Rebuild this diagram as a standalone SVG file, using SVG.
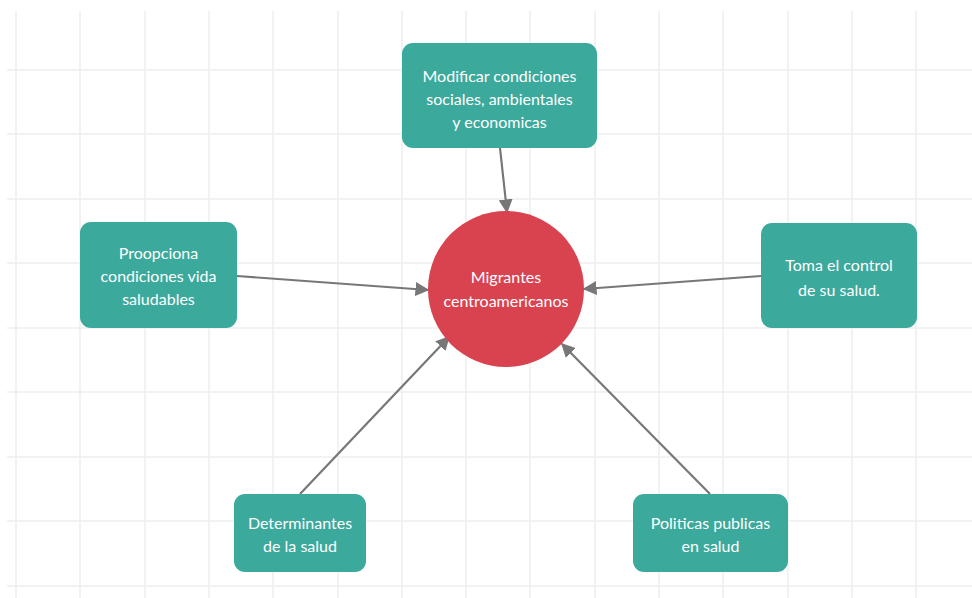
<svg xmlns="http://www.w3.org/2000/svg" width="972" height="598" viewBox="0 0 972 598">
<defs>
<style>
.grid line{stroke:#eeeeee;stroke-width:1.5}
.box{fill:#3ba99c}
.hub{fill:#d8434f}
.t{font-family:Lato,"Open Sans","Liberation Sans",sans-serif;font-size:16px;fill:#ffffff;text-anchor:middle}
.c{stroke:#777777;stroke-width:2.2;fill:none;marker-end:url(#ah)}
</style>
<marker id="ah" viewBox="0 0 10 10" refX="9" refY="5" markerWidth="14" markerHeight="14" markerUnits="userSpaceOnUse" orient="auto">
<path d="M0,0 L10,5 L0,10 z" fill="#777777"/>
</marker>
</defs>
<rect width="972" height="598" fill="#ffffff"/>
<g class="grid">
<line x1="16" y1="11" x2="16" y2="598"/>
<line x1="80" y1="11" x2="80" y2="598"/>
<line x1="145" y1="11" x2="145" y2="598"/>
<line x1="209" y1="11" x2="209" y2="598"/>
<line x1="273" y1="11" x2="273" y2="598"/>
<line x1="338" y1="11" x2="338" y2="598"/>
<line x1="402" y1="11" x2="402" y2="598"/>
<line x1="466" y1="11" x2="466" y2="598"/>
<line x1="530" y1="11" x2="530" y2="598"/>
<line x1="595" y1="11" x2="595" y2="598"/>
<line x1="659" y1="11" x2="659" y2="598"/>
<line x1="723" y1="11" x2="723" y2="598"/>
<line x1="788" y1="11" x2="788" y2="598"/>
<line x1="852" y1="11" x2="852" y2="598"/>
<line x1="916" y1="11" x2="916" y2="598"/>
<line x1="7" y1="70" x2="972" y2="70"/>
<line x1="7" y1="134" x2="972" y2="134"/>
<line x1="7" y1="199" x2="972" y2="199"/>
<line x1="7" y1="263" x2="972" y2="263"/>
<line x1="7" y1="328" x2="972" y2="328"/>
<line x1="7" y1="392" x2="972" y2="392"/>
<line x1="7" y1="457" x2="972" y2="457"/>
<line x1="7" y1="521" x2="972" y2="521"/>
<line x1="7" y1="586" x2="972" y2="586"/>
</g>
<g id="connectors">
<line class="c" x1="500" y1="148" x2="507" y2="212"/>
<line class="c" x1="237" y1="276" x2="428" y2="290"/>
<line class="c" x1="761" y1="276" x2="584" y2="289"/>
<line class="c" x1="300" y1="494" x2="449" y2="337"/>
<line class="c" x1="710" y1="494" x2="562" y2="344"/>
</g>
<g id="n-center">
<circle class="hub" cx="506" cy="289" r="78"/>
<text class="t" x="506" y="283">Migrantes</text>
<text class="t" x="506" y="307">centroamericanos</text>
</g>
<g id="n-top">
<rect class="box" x="402" y="43" width="195" height="105" rx="11"/>
<text class="t" x="499.5" y="82">Modificar condiciones</text>
<text class="t" x="499.5" y="105">sociales, ambientales</text>
<text class="t" x="499.5" y="128">y economicas</text>
</g>
<g id="n-left">
<rect class="box" x="80" y="222" width="157" height="106" rx="11"/>
<text class="t" x="158.5" y="259">Proopciona</text>
<text class="t" x="158.5" y="282">condiciones vida</text>
<text class="t" x="158.5" y="305">saludables</text>
</g>
<g id="n-right">
<rect class="box" x="761" y="223" width="156" height="105" rx="11"/>
<text class="t" x="839" y="271">Toma el control</text>
<text class="t" x="839" y="296">de su salud.</text>
</g>
<g id="n-bl">
<rect class="box" x="234" y="494" width="132" height="78" rx="11"/>
<text class="t" x="300" y="529">Determinantes</text>
<text class="t" x="300" y="552">de la salud</text>
</g>
<g id="n-br">
<rect class="box" x="633" y="494" width="155" height="78" rx="11"/>
<text class="t" x="710.5" y="529">Politicas publicas</text>
<text class="t" x="710.5" y="552">en salud</text>
</g>
</svg>
